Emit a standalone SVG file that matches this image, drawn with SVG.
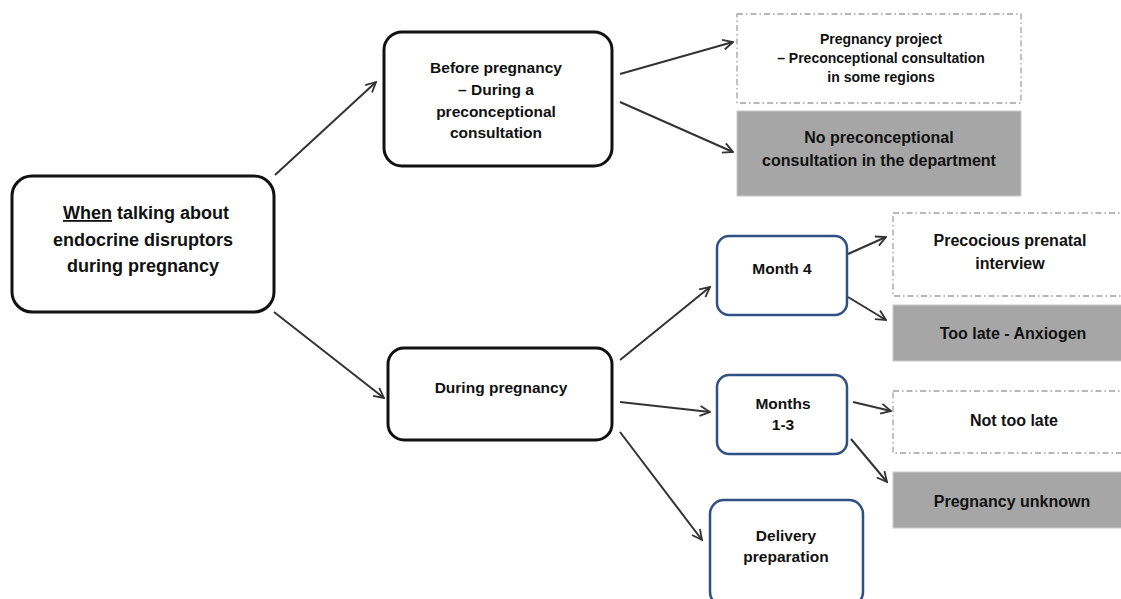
<svg xmlns="http://www.w3.org/2000/svg" width="1121" height="599" viewBox="0 0 1121 599">
<style>
text{font-family:"Liberation Sans",Arial,sans-serif;font-weight:bold;fill:#111;text-anchor:middle}
.blk{fill:#fff;stroke:#111;stroke-width:3}
.blu{fill:#fff;stroke:#2f5083;stroke-width:2.5}
.dash{fill:#fff;stroke:#a0a0a0;stroke-width:1.3;stroke-dasharray:6 3 1.5 3}
.grey{fill:#a6a6a6;stroke:#c8c8c8;stroke-width:1}
.c line{stroke:#333;stroke-width:2;marker-end:url(#ah)}
</style>
<defs>
<marker id="ah" viewBox="0 0 12 12" refX="11" refY="6" markerWidth="12" markerHeight="12" markerUnits="userSpaceOnUse" orient="auto">
<polyline points="1,1 11,6 1,11" fill="none" stroke="#333" stroke-width="1.8"/>
</marker>
</defs>
<rect width="1121" height="599" fill="#fff"/>
<g class="c">
<line x1="275" y1="175" x2="376" y2="82"/>
<line x1="274" y1="312" x2="384" y2="398"/>
<line x1="620" y1="74" x2="733" y2="42"/>
<line x1="620" y1="102" x2="733" y2="152"/>
<line x1="620" y1="360" x2="710" y2="287"/>
<line x1="620" y1="402" x2="710" y2="412"/>
<line x1="620" y1="432" x2="702" y2="540"/>
<line x1="848" y1="254" x2="886" y2="237"/>
<line x1="848" y1="297" x2="886" y2="320"/>
<line x1="853" y1="402" x2="891" y2="411"/>
<line x1="851" y1="439" x2="887" y2="482"/>
</g>
<g id="main">
<rect class="blk" x="12" y="176" width="262" height="136" rx="20"/>
<text font-size="18"><tspan x="146" y="219"><tspan text-decoration="underline">When</tspan> talking about</tspan><tspan x="143" y="246">endocrine disruptors</tspan><tspan x="143" y="272">during pregnancy</tspan></text>
</g>
<g id="before">
<rect class="blk" x="384" y="32" width="228" height="134" rx="18"/>
<text font-size="15.5"><tspan x="496" y="73">Before pregnancy</tspan><tspan x="496" y="95">– During a</tspan><tspan x="496" y="117">preconceptional</tspan><tspan x="496" y="138">consultation</tspan></text>
</g>
<g id="during">
<rect class="blk" x="388" y="348" width="224" height="92" rx="16"/>
<text font-size="15.5" x="501" y="393">During pregnancy</text>
</g>
<g id="project">
<rect class="dash" x="737" y="14" width="284" height="89"/>
<text font-size="14"><tspan x="881" y="44">Pregnancy project</tspan><tspan x="881" y="63">– Preconceptional consultation</tspan><tspan x="881" y="82">in some regions</tspan></text>
</g>
<g id="noprecon">
<rect class="grey" x="737" y="111" width="284" height="85"/>
<text font-size="16"><tspan x="879" y="143">No preconceptional</tspan><tspan x="879" y="166">consultation in the department</tspan></text>
</g>
<g id="month4">
<rect class="blu" x="717" y="236" width="130" height="79" rx="12"/>
<text font-size="15.5" x="782" y="274">Month 4</text>
</g>
<g id="months13">
<rect class="blu" x="717" y="375" width="130" height="79" rx="12"/>
<text font-size="15.5"><tspan x="783" y="409">Months</tspan><tspan x="783" y="430">1-3</tspan></text>
</g>
<g id="delivery">
<rect class="blu" x="710" y="500" width="153" height="106" rx="14"/>
<text font-size="15.5"><tspan x="786" y="541">Delivery</tspan><tspan x="786" y="562">preparation</tspan></text>
</g>
<g id="precocious">
<rect class="dash" x="893" y="213" width="232" height="83"/>
<text font-size="16"><tspan x="1010" y="246">Precocious prenatal</tspan><tspan x="1010" y="269">interview</tspan></text>
</g>
<g id="toolate">
<rect class="grey" x="893" y="305" width="232" height="56"/>
<text font-size="16" x="1013" y="339">Too late - Anxiogen</text>
</g>
<g id="nottoolate">
<rect class="dash" x="893" y="391" width="232" height="62"/>
<text font-size="16" x="1014" y="426">Not too late</text>
</g>
<g id="unknown">
<rect class="grey" x="893" y="472" width="232" height="56"/>
<text font-size="16" x="1012" y="507">Pregnancy unknown</text>
</g>
</svg>
